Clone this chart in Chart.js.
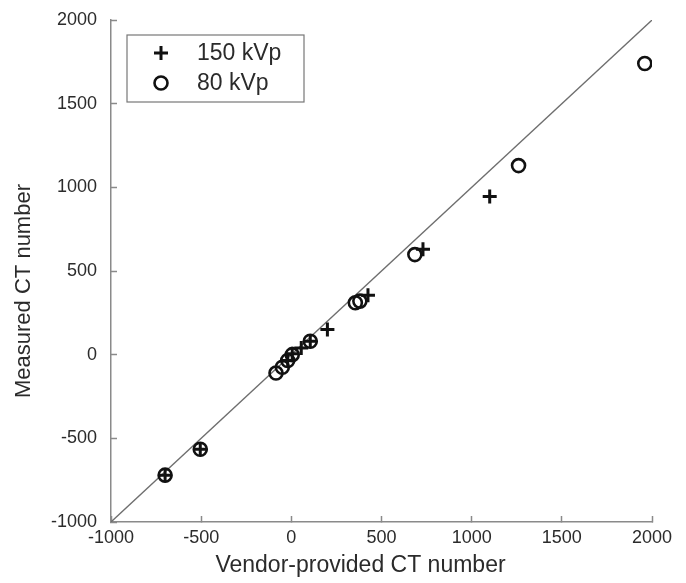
<!DOCTYPE html>
<html>
<head>
<meta charset="utf-8">
<script src="https://cdn.jsdelivr.net/npm/chart.js@4.4.0/dist/chart.umd.min.js"></script>
<style>
    html, body { margin: 0; padding: 0; background: #fff; }
</style>
</head>
<body>
<canvas id="ct-chart" width="686" height="583"></canvas>
<script>
// data
const seriesNames = ["150 kVp", "80 kVp"]
const vendor150 = [-700, -505, -20, 5, 55, 105, 200, 425, 730, 1100]
const measured150 = [-720, -565, -35, 5, 40, 80, 150, 355, 630, 945]
const vendor80 = [-700, -505, -85, -50, -20, 5, 105, 355, 380, 685, 1260, 1960]
const measured80 = [-720, -565, -110, -75, -35, 0, 80, 310, 320, 598, 1130, 1740]
const identityLine = [-1000, 2000]
const axisMin = -1000
const axisMax = 2000
const axisStep = 500
const xTitle = "Vendor-provided CT number"
const yTitle = "Measured CT number"

const axisColor = "#8a8a8a"
const textColor = "#2b2b2b"
const fontFamily = "'Liberation Sans', Arial, sans-serif"

function toPoints(xs, ys) {
    return xs.map((x, i) => ({x: x, y: ys[i]}))
}

// legend drawn inside the plot area, with a box round it
const boxLegend = {
    id: "boxLegend",
    afterDraw(chart) {
        const ctx = chart.ctx
        const items = chart.data.datasets.filter(d => d.inLegend)
        const left = 127, top = 35, width = 177, height = 67
        ctx.save()
        ctx.strokeStyle = "#777"
        ctx.lineWidth = 1.2
        ctx.fillStyle = "#fff"
        ctx.fillRect(left, top, width, height)
        ctx.strokeRect(left, top, width, height)
        ctx.font = "23px " + fontFamily
        ctx.textBaseline = "middle"
        items.forEach((ds, i) => {
            const cy = top + 18 + i * 30
            ctx.strokeStyle = ds.borderColor
            ctx.fillStyle = "transparent"
            ctx.lineWidth = ds.borderWidth
            Chart.helpers.drawPoint(ctx, {
                pointStyle: ds.pointStyle,
                radius: ds.pointRadius,
                borderWidth: ds.borderWidth
            }, left + 34, cy)
            ctx.fillStyle = textColor
            ctx.fillText(ds.label, left + 70, cy + 1)
        })
        ctx.restore()
    }
}

// axis titles sit a bit off centre in the original, so draw them here
const axisTitles = {
    id: "axisTitles",
    afterDraw(chart) {
        const ctx = chart.ctx
        const area = chart.chartArea
        ctx.save()
        ctx.fillStyle = textColor
        ctx.textAlign = "center"
        ctx.textBaseline = "middle"
        ctx.font = "23px " + fontFamily
        ctx.fillText(xTitle, (area.left + area.right) / 2 - 21, 566)
        ctx.translate(24, (area.top + area.bottom) / 2 + 20)
        ctx.rotate(-Math.PI / 2)
        ctx.font = "22px " + fontFamily
        ctx.fillText(yTitle, 0, 0)
        ctx.restore()
    }
}

function plainNumber(value) {
    return String(value)
}

const canvas = document.getElementById("ct-chart").getContext("2d")

const ctChart = new Chart(canvas, {
    type: "scatter",
    data: {
        datasets: [{
            label: seriesNames[0],
            inLegend: true,
            data: toPoints(vendor150, measured150),
            pointStyle: "cross",
            pointRadius: 7,
            borderWidth: 3,
            borderColor: "#111",
            backgroundColor: "#111",
            order: 0
        }, {
            label: seriesNames[1],
            inLegend: true,
            data: toPoints(vendor80, measured80),
            pointStyle: "circle",
            pointRadius: 6.5,
            borderWidth: 2.6,
            borderColor: "#111",
            backgroundColor: "rgba(0,0,0,0)",
            order: 1
        }, {
            type: "line",
            label: "identity",
            data: toPoints(identityLine, identityLine),
            borderColor: "#6e6e6e",
            borderWidth: 1.3,
            pointRadius: 0,
            fill: false,
            order: 5
        }]
    },
    options: {
        responsive: false,
        animation: false,
        layout: {
            padding: {top: 20, right: 34, left: 0, bottom: 0}
        },
        plugins: {
            legend: {display: false},
            tooltip: {enabled: false}
        },
        scales: {
            x: {
                type: "linear",
                min: axisMin,
                max: axisMax,
                border: {display: true, color: axisColor, width: 1.5},
                grid: {
                    drawOnChartArea: false,
                    tickLength: -6,
                    tickColor: axisColor,
                    tickWidth: 1.5
                },
                ticks: {
                    stepSize: axisStep,
                    padding: 11,
                    color: textColor,
                    font: {family: fontFamily, size: 18},
                    maxRotation: 0,
                    callback: plainNumber
                },
                title: {display: false, text: xTitle},
                afterFit(scale) {
                    scale.height = 61
                    scale.paddingLeft = 0
                    scale.paddingRight = 0
                }
            },
            y: {
                type: "linear",
                min: axisMin,
                max: axisMax,
                border: {display: true, color: axisColor, width: 1.5},
                grid: {
                    drawOnChartArea: false,
                    tickLength: -6,
                    tickColor: axisColor,
                    tickWidth: 1.5
                },
                ticks: {
                    stepSize: axisStep,
                    padding: 20,
                    color: textColor,
                    font: {family: fontFamily, size: 18},
                    callback: plainNumber
                },
                title: {display: false, text: yTitle},
                afterFit(scale) {
                    scale.width = 111
                    scale.paddingTop = 0
                    scale.paddingBottom = 0
                }
            }
        }
    },
    plugins: [boxLegend, axisTitles]
})
</script>
</body>
</html>
